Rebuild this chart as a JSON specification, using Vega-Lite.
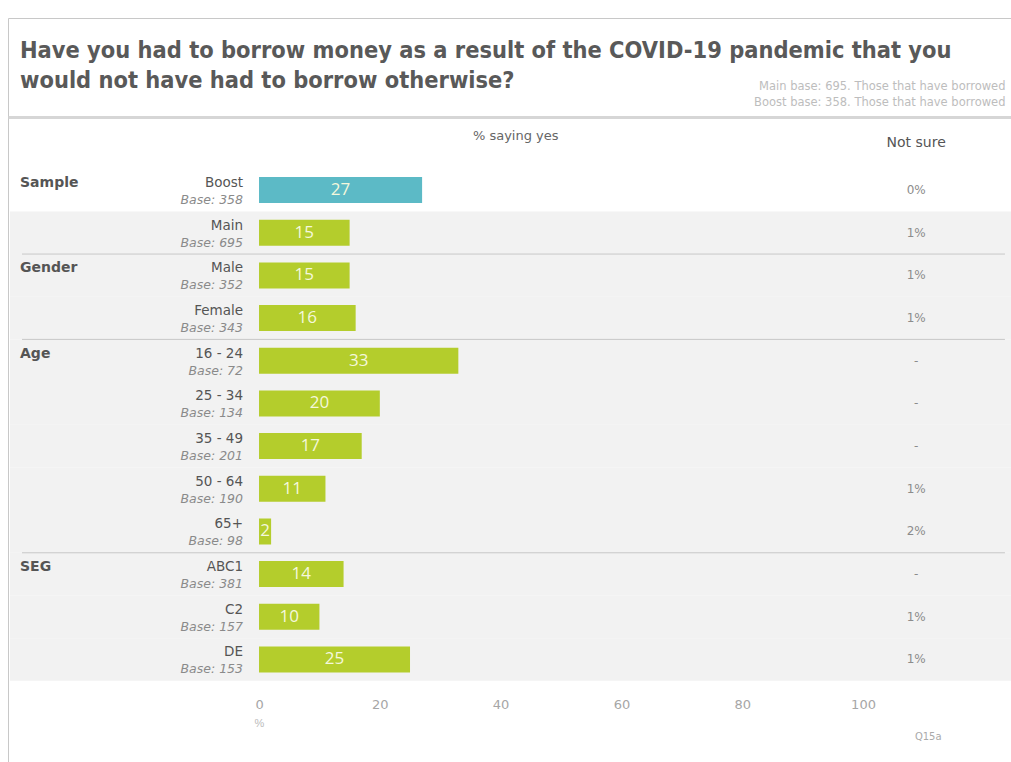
{
  "$schema": "https://vega.github.io/schema/vega-lite/v6.json",
  "width": 1010,
  "height": 745,
  "autosize": "none",
  "padding": {"left": 8, "top": 18, "right": 0, "bottom": 0},
  "background": "white",
  "config": {"view": {"stroke": "#c8c8c8", "strokeWidth": 1}, "text": {"font": "DejaVu Sans"}},
  "title": {
    "text": ["Have you had to borrow money as a result of the COVID-19 pandemic that you", "would not have had to borrow otherwise?"],
    "anchor": "start", "frame": "group", "orient": "top", "offset": -75, "dx": 12,
    "font": "DejaVu Sans Condensed", "fontSize": 23.4, "fontWeight": "bold", "color": "#595959", "lineHeight": 30
  },
  "datasets": {
    "rows": [
      {"row": "Boost", "base": "Base: 358", "yes": 27, "notsure": "0%", "series": "Boost"},
      {"row": "Main", "base": "Base: 695", "yes": 15, "notsure": "1%", "series": "Main"},
      {"row": "Male", "base": "Base: 352", "yes": 15, "notsure": "1%", "series": "Main"},
      {"row": "Female", "base": "Base: 343", "yes": 16, "notsure": "1%", "series": "Main"},
      {"row": "16 - 24", "base": "Base: 72", "yes": 33, "notsure": "-", "series": "Main"},
      {"row": "25 - 34", "base": "Base: 134", "yes": 20, "notsure": "-", "series": "Main"},
      {"row": "35 - 49", "base": "Base: 201", "yes": 17, "notsure": "-", "series": "Main"},
      {"row": "50 - 64", "base": "Base: 190", "yes": 11, "notsure": "1%", "series": "Main"},
      {"row": "65+", "base": "Base: 98", "yes": 2, "notsure": "2%", "series": "Main"},
      {"row": "ABC1", "base": "Base: 381", "yes": 14, "notsure": "-", "series": "Main"},
      {"row": "C2", "base": "Base: 157", "yes": 10, "notsure": "1%", "series": "Main"},
      {"row": "DE", "base": "Base: 153", "yes": 25, "notsure": "1%", "series": "Main"}
    ],
    "groups": [
      {"row": "Boost", "group": "Sample"},
      {"row": "Male", "group": "Gender"},
      {"row": "16 - 24", "group": "Age"},
      {"row": "ABC1", "group": "SEG"}
    ],
    "seps": [
      {"row": "Male"},
      {"row": "16 - 24"},
      {"row": "ABC1"}
    ],
    "head": [{"row": "Boost"}],
    "foot": [{"row": "DE", "code": "Q15a"}]
  },
  "resolve": {"scale": {"x": "independent"}, "axis": {"x": "independent"}},
  "layer": [
    {
      "data": {"name": "rows"},
      "transform": [{"filter": "datum.row !== 'Boost'"}],
      "mark": {"type": "rect", "color": "#f2f2f2"},
      "encoding": {
        "y": {"field": "row", "type": "nominal", "sort": null,
          "scale": {"type": "band", "domain": ["Boost", "Main", "Male", "Female", "16 - 24", "25 - 34", "35 - 49", "50 - 64", "65+", "ABC1", "C2", "DE"], "paddingInner": 0, "paddingOuter": 0, "range": [150.7, 662.8]},
          "axis": null},
        "x": {"datum": -41.23, "type": "quantitative", "scale": {"domain": [-41.56, 125.66], "nice": false, "zero": false}, "axis": null},
        "x2": {"datum": 125.66}
      }
    },
    {
      "data": {"name": "seps"},
      "mark": {"type": "rule", "color": "#c8c8c8", "strokeWidth": 1},
      "encoding": {
        "y": {"field": "row", "type": "nominal", "bandPosition": 0},
        "x": {"datum": -39.24, "type": "quantitative", "scale": {"domain": [-41.56, 125.66], "nice": false, "zero": false},
          "axis": {"orient": "top", "offset": -99, "domain": true, "domainColor": "#d6d6d6", "domainWidth": 3, "ticks": false, "labels": false, "grid": false,
            "title": ["Main base: 695. Those that have borrowed", "Boost base: 358. Those that have borrowed"],
            "titleFont": "DejaVu Sans", "titleFontSize": 11.5, "titleFontWeight": "normal", "titleColor": "#bdbdbd", "titleAnchor": "end", "titleAlign": "right", "titleX": 997, "titlePadding": 10, "titleLineHeight": 16}},
        "x2": {"datum": 123.5}
      }
    },
    {
      "data": {"name": "rows"},
      "mark": {"type": "bar", "size": 26},
      "encoding": {
        "y": {"field": "row", "type": "nominal"},
        "x": {"field": "yes", "type": "quantitative", "scale": {"domain": [-41.56, 125.66], "nice": false, "zero": false},
          "axis": {"orient": "bottom", "offset": -73, "values": [0, 20, 40, 60, 80, 100], "domain": false, "ticks": false, "grid": false,
            "labelColor": "#a6a6a6", "labelFontSize": 13, "labelFont": "DejaVu Sans", "labelPadding": 8,
            "title": "%", "titleX": 251, "titleAlign": "center", "titleFontSize": 11, "titleFontWeight": "normal", "titleColor": "#bbbbbb", "titlePadding": 6}},
        "color": {"field": "series", "type": "nominal", "scale": {"domain": ["Boost", "Main"], "range": ["#5cbac6", "#b4cd2c"]}, "legend": null}
      }
    },
    {
      "data": {"name": "rows"},
      "mark": {"type": "text", "fontSize": 17, "color": "#f4f8dc", "font": "Open Sans", "baseline": "middle", "align": "center"},
      "encoding": {
        "y": {"field": "row", "type": "nominal"},
        "x": {"field": "yes", "type": "quantitative", "scale": {"domain": [-83.12, 251.32], "nice": false, "zero": false}, "axis": null},
        "text": {"field": "yes", "type": "quantitative"}
      }
    },
    {
      "data": {"name": "rows"},
      "mark": {"type": "text", "fontSize": 13.5, "color": "#555555", "align": "right", "baseline": "middle", "dy": -7},
      "encoding": {
        "y": {"field": "row", "type": "nominal"},
        "x": {"datum": -2.65, "type": "quantitative", "scale": {"domain": [-41.56, 125.66], "nice": false, "zero": false}, "axis": null},
        "text": {"field": "row", "type": "nominal"}
      }
    },
    {
      "data": {"name": "rows"},
      "mark": {"type": "text", "fontSize": 12.5, "fontStyle": "italic", "color": "#8a8a8a", "align": "right", "baseline": "middle", "dy": 10},
      "encoding": {
        "y": {"field": "row", "type": "nominal"},
        "x": {"datum": -2.65, "type": "quantitative", "scale": {"domain": [-41.56, 125.66], "nice": false, "zero": false}, "axis": null},
        "text": {"field": "base", "type": "nominal"}
      }
    },
    {
      "data": {"name": "groups"},
      "mark": {"type": "text", "fontSize": 14, "fontWeight": "bold", "color": "#555555", "align": "left", "baseline": "middle", "dy": -7},
      "encoding": {
        "y": {"field": "row", "type": "nominal"},
        "x": {"datum": -39.57, "type": "quantitative", "scale": {"domain": [-41.56, 125.66], "nice": false, "zero": false}, "axis": null},
        "text": {"field": "group", "type": "nominal"}
      }
    },
    {
      "data": {"name": "rows"},
      "mark": {"type": "text", "fontSize": 12, "color": "#8c8c8c", "align": "center", "baseline": "middle"},
      "encoding": {
        "y": {"field": "row", "type": "nominal"},
        "x": {"datum": 108.8, "type": "quantitative", "scale": {"domain": [-41.56, 125.66], "nice": false, "zero": false}, "axis": null},
        "text": {"field": "notsure", "type": "nominal"}
      }
    },
    {
      "data": {"name": "head"},
      "mark": {"type": "text", "fontSize": 13, "color": "#666666", "align": "center", "baseline": "middle", "dy": -54, "text": "% saying yes"},
      "encoding": {
        "y": {"field": "row", "type": "nominal"},
        "x": {"datum": 42.5, "type": "quantitative", "scale": {"domain": [-41.56, 125.66], "nice": false, "zero": false}, "axis": null}
      }
    },
    {
      "data": {"name": "head"},
      "mark": {"type": "text", "fontSize": 14, "color": "#555555", "align": "center", "baseline": "middle", "dy": -47, "text": "Not sure"},
      "encoding": {
        "y": {"field": "row", "type": "nominal"},
        "x": {"datum": 108.8, "type": "quantitative", "scale": {"domain": [-41.56, 125.66], "nice": false, "zero": false}, "axis": null}
      }
    },
    {
      "data": {"name": "foot"},
      "mark": {"type": "text", "fontSize": 10, "color": "#aaaaaa", "align": "center", "baseline": "middle", "dy": 78},
      "encoding": {
        "y": {"field": "row", "type": "nominal"},
        "x": {"datum": 110.8, "type": "quantitative", "scale": {"domain": [-41.56, 125.66], "nice": false, "zero": false}, "axis": null},
        "text": {"field": "code", "type": "nominal"}
      }
    }
  ]
}
